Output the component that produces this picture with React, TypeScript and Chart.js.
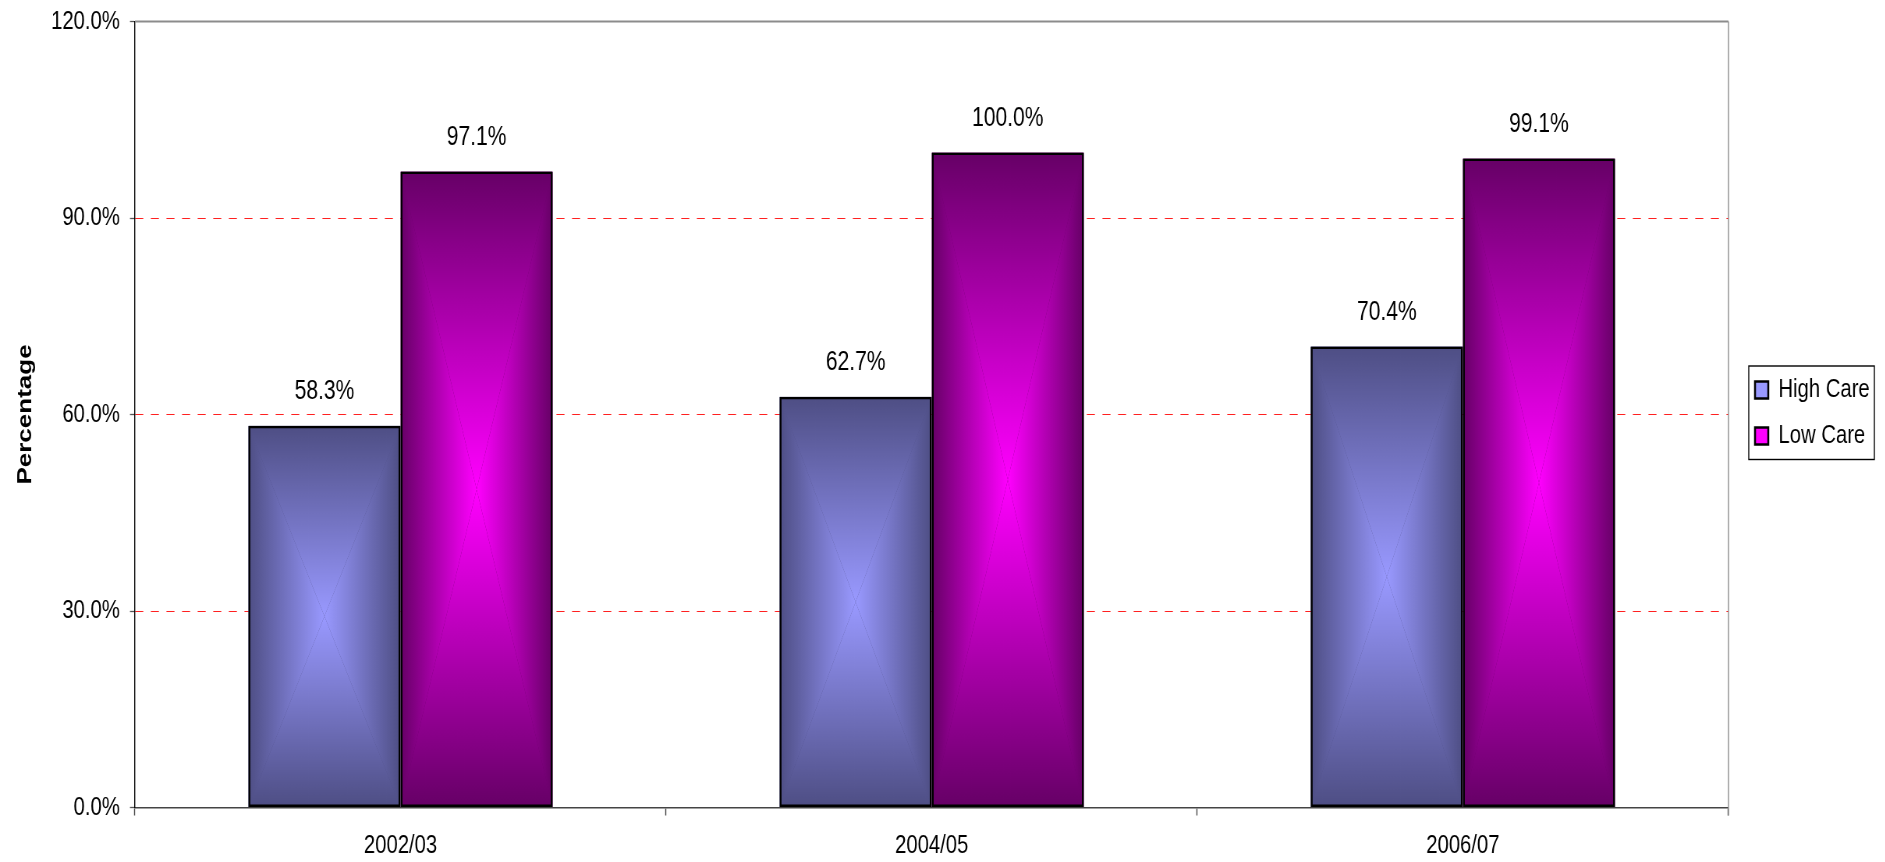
import React, { useEffect, useRef } from 'react';
import { Chart, registerables } from 'chart.js';

Chart.register(...registerables);

// ---- data ----
const categories = ['2002/03', '2004/05', '2006/07'];
const seriesNames = ['High Care', 'Low Care'];
const highCare = [58.3, 62.7, 70.4];
const lowCare = [97.1, 100.0, 99.1];
const yMin = 0;
const yMax = 120;
const yStep = 30;

// ---- styling ----
const SX = 0.78; // horizontal squeeze of the whole picture
const W = Math.round(1885 / SX);
const H = 862;
const FONT = "'Liberation Sans', Arial, sans-serif";
const TEXT_SIZE = 26;
const edgeColors = ['#4E4E84', '#660066'];
const centerColors = ['#9999FF', '#FF00FF'];
const legendColors = ['#9999FF', '#FF00FF'];
const LEGEND_X = 2250; // internal px, first legend item left
const LEGEND_Y = 377; // first legend item top

function centerGradient(ctx: CanvasRenderingContext2D, l: number, t: number, r: number, b: number, edge: string, center: string) {
  const cx = (l + r) / 2;
  const cy = (t + b) / 2;
  ctx.save();
  ctx.beginPath();
  ctx.rect(l, t, r - l, b - t);
  ctx.clip();
  ctx.fillStyle = edge;
  ctx.fillRect(l, t, r - l, b - t);
  const tri = (pts: number[][], x0: number, y0: number) => {
    const g = ctx.createLinearGradient(x0, y0, cx, cy);
    g.addColorStop(0, edge);
    g.addColorStop(1, center);
    ctx.fillStyle = g;
    ctx.beginPath();
    ctx.moveTo(pts[0][0], pts[0][1]);
    ctx.lineTo(pts[1][0], pts[1][1]);
    ctx.lineTo(cx, cy);
    ctx.closePath();
    ctx.fill();
  };
  tri([[l, t], [r, t]], cx, t);
  tri([[l, b], [r, b]], cx, b);
  tri([[l, t], [l, b]], l, cy);
  tri([[r, t], [r, b]], r, cy);
  ctx.restore();
}

const fancyPlugin = {
  id: 'fancy',
  afterUpdate(chart: any) {
    const lg = chart.legend;
    if (!lg || !lg.legendHitBoxes || !lg.legendHitBoxes.length) return;
    const hb = lg.legendHitBoxes;
    const dx = LEGEND_X - hb[0].left;
    const dy = LEGEND_Y - hb[0].top;
    lg.left += dx;
    lg.right += dx;
    lg.top += dy;
    lg.bottom += dy;
    hb.forEach((h: any) => {
      h.left += dx;
      h.top += dy;
    });
  },
  beforeDatasetsDraw(chart: any) {
    const ctx = chart.ctx as CanvasRenderingContext2D;
    chart.data.datasets.forEach((_ds: any, di: number) => {
      const meta = chart.getDatasetMeta(di);
      meta.data.forEach((el: any) => {
        const p = el.getProps(['x', 'y', 'base', 'width'], true);
        const l = p.x - p.width / 2;
        const r = p.x + p.width / 2;
        const t = Math.min(p.y, p.base);
        const b = Math.max(p.y, p.base);
        centerGradient(ctx, l, t, r, b, edgeColors[di], centerColors[di]);
      });
    });
  },
  afterDatasetsDraw(chart: any) {
    const ctx = chart.ctx as CanvasRenderingContext2D;
    ctx.save();
    ctx.font = `27px ${FONT}`;
    ctx.fillStyle = '#000';
    ctx.textAlign = 'center';
    ctx.textBaseline = 'middle';
    chart.data.datasets.forEach((ds: any, di: number) => {
      const meta = chart.getDatasetMeta(di);
      meta.data.forEach((el: any, i: number) => {
        const p = el.getProps(['x', 'y'], true);
        ctx.fillText(Number(ds.data[i]).toFixed(1) + '%', p.x, p.y - 34);
      });
    });
    ctx.restore();
  },
  afterDraw(chart: any) {
    const ctx = chart.ctx as CanvasRenderingContext2D;
    const a = chart.chartArea;
    ctx.save();
    ctx.strokeStyle = '#8C8C8C';
    ctx.lineWidth = 2;
    ctx.beginPath();
    ctx.moveTo(a.left, a.top);
    ctx.lineTo(a.right, a.top);
    ctx.stroke();
    ctx.lineWidth = 1.4;
    ctx.beginPath();
    ctx.moveTo(a.right, a.top);
    ctx.lineTo(a.right, a.bottom + 8);
    ctx.stroke();
    // legend frame
    const hb = chart.legend && chart.legend.legendHitBoxes;
    if (hb && hb.length) {
      const first = hb[0];
      const last = hb[hb.length - 1];
      const l = first.left - 8;
      const r = first.left + 153;
      const t = first.top + first.height / 2 - 24;
      const b = last.top + last.height / 2 + 23.5;
      ctx.strokeStyle = '#000';
      ctx.lineWidth = 1.4;
      ctx.strokeRect(l, t, r - l, b - t);
    }
    ctx.restore();
  },
};

export default function App() {
  const ref = useRef<HTMLCanvasElement>(null);
  useEffect(() => {
    Chart.defaults.font.family = FONT;
    const chart = new Chart(ref.current as HTMLCanvasElement, {
      type: 'bar',
      data: {
        labels: categories,
        datasets: [
          {
            label: seriesNames[0],
            data: highCare,
            backgroundColor: 'rgba(0,0,0,0)',
            borderColor: '#000',
            borderWidth: 2.5,
            borderSkipped: false,
          },
          {
            label: seriesNames[1],
            data: lowCare,
            backgroundColor: 'rgba(0,0,0,0)',
            borderColor: '#000',
            borderWidth: 2.5,
            borderSkipped: false,
          },
        ],
      },
      options: {
        responsive: false,
        animation: false,
        devicePixelRatio: 1,
        layout: { padding: { top: 21.5, bottom: 0, left: 0, right: 24 } },
        datasets: { bar: { barPercentage: 1, categoryPercentage: 0.573 } },
        plugins: {
          legend: {
            position: 'right',
            labels: {
              boxWidth: 17,
              boxHeight: 17,
              padding: 20,
              color: '#000',
              font: { size: TEXT_SIZE, family: FONT },
              generateLabels: (ch: any) => {
                const items = (Chart.defaults.plugins.legend.labels as any).generateLabels(ch);
                items.forEach((it: any, i: number) => {
                  it.fillStyle = legendColors[i];
                  it.strokeStyle = '#000';
                  it.lineWidth = 2.5;
                });
                return items;
              },
            },
          },
          tooltip: { enabled: false },
        },
        scales: {
          x: {
            grid: {
              offset: true,
              drawOnChartArea: false,
              drawTicks: true,
              tickLength: 8,
              tickColor: '#444',
              tickWidth: 1.4,
            },
            border: { display: true, color: '#444', width: 1.6 },
            ticks: { color: '#000', font: { size: TEXT_SIZE, family: FONT }, padding: 15 },
            afterFit: (s: any) => {
              s.height = 54.5;
            },
          },
          y: {
            min: yMin,
            max: yMax,
            ticks: {
              stepSize: yStep,
              color: '#000',
              font: { size: TEXT_SIZE, family: FONT },
              padding: 13,
              callback: (v: any) => Number(v).toFixed(1) + '%',
            },
            grid: {
              color: (c: any) =>
                c.tick && (c.tick.value === yMin || c.tick.value === yMax) ? 'rgba(0,0,0,0)' : '#FF2020',
              lineWidth: 1,
              drawTicks: true,
              tickLength: 6.4,
              tickColor: '#555',
              tickWidth: 1.3,
              tickBorderDash: [],
            },
            border: { display: true, color: '#000', width: 1.4, dash: [10.3, 9.7] },
            title: {
              display: true,
              text: 'Percentage',
              color: '#000',
              font: { size: 26, weight: 'bold', family: FONT },
              padding: { top: 17, bottom: 0 },
            },
            afterFit: (s: any) => {
              s.width = 173;
              s.paddingTop = 0;
              s.paddingBottom = 0;
            },
          },
        },
      },
      plugins: [fancyPlugin],
    } as any);
    return () => chart.destroy();
  }, []);

  return (
    <div
      style={{
        position: 'absolute',
        left: 0,
        top: 0,
        width: 1885,
        height: 862,
        overflow: 'hidden',
        background: '#fff',
      }}
    >
      <div style={{ width: W, height: H, transform: `scaleX(${SX})`, transformOrigin: '0 0' }}>
        <canvas ref={ref} width={W} height={H} style={{ display: 'block', width: W, height: H }} />
      </div>
    </div>
  );
}
